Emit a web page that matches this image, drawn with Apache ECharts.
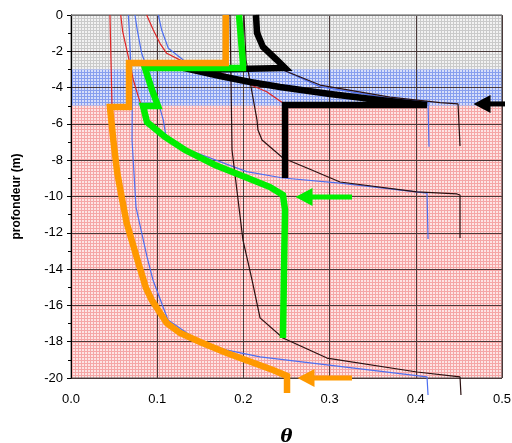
<!DOCTYPE html>
<html>
<head>
<meta charset="utf-8">
<script src="https://cdn.jsdelivr.net/npm/echarts@6/dist/echarts.min.js"></script>
<style>
html, body { margin: 0; padding: 0; background: #fff; }
#main { width: 512px; height: 443px; }
</style>
</head>
<body>
<div id="main"></div>
<script>
// profils teneur en eau : [theta, profondeur]
var zones = [[0, -3], [-3, -5], [-5, -20]];

var orange = [[0.1795, 0], [0.1795, -2.64], [0.0673, -2.64], [0.0673, -5.07], [0.0452, -5.07],
    [0.0491, -6.89], [0.0537, -8.71], [0.0588, -10.03], [0.0646, -11.46], [0.0704, -12.40],
    [0.0781, -13.66], [0.087, -15.04], [0.0936, -15.70], [0.111, -16.97], [0.1265, -17.52],
    [0.1497, -18.02], [0.1806, -18.62], [0.2343, -19.56], [0.2506, -19.89], [0.2506, -20.83]];

var green = [[0.1949, 0], [0.1995, -2.64], [0.1995, -2.92], [0.0858, -2.92], [0.094, -4.13],
    [0.1009, -5.01], [0.0835, -5.01], [0.0882, -5.90], [0.109, -6.72], [0.1323, -7.44],
    [0.167, -8.26], [0.2019, -8.93], [0.2309, -9.48], [0.2459, -9.92], [0.2483, -10.74],
    [0.2471, -14.05], [0.2459, -17.80]];

var blackThick = [[0.2146, 0], [0.2158, -0.99], [0.2227, -1.76], [0.239, -2.48], [0.2483, -2.92],
    [0.2483, -3.03], [0.1415, -3.03], [0.1729, -3.36], [0.2077, -3.69], [0.2425, -3.97],
    [0.3005, -4.35], [0.3585, -4.68], [0.413, -4.96], [0.2483, -4.96], [0.2483, -8.98]];

var red1 = [[0.0452, 0], [0.0476, -5.07]];
var red2 = [[0.0577, 0], [0.06, -0.92], [0.0665, -2.30], [0.0723, -3.58], [0.0781, -4.50], [0.082, -5.05]];
var red3 = [[0.0878, 0], [0.0955, -0.83], [0.1032, -1.56], [0.111, -2.11], [0.1303, -2.57],
    [0.1497, -2.87], [0.1821, -3.31], [0.2038, -3.76], [0.227, -4.23], [0.2459, -4.85]];

var blueA = [[0.0665, 0], [0.0676, -0.83], [0.0693, -2.64], [0.0711, -4.5], [0.0708, -6.89],
    [0.0754, -10.58], [0.0882, -13.33], [0.0951, -14.6], [0.1125, -16.8], [0.1497, -18.02],
    [0.181, -18.46], [0.2193, -18.84], [0.297, -19.28], [0.413, -19.94], [0.4142, -19.94], [0.4142, -20.94]];
var blueB = [[0.0742, 0], [0.0769, -0.83], [0.082, -2.11], [0.0916, -3.40], [0.0994, -4.50],
    [0.1071, -5.79], [0.1102, -6.70], [0.1265, -7.26], [0.2038, -8.63], [0.2459, -8.98],
    [0.3121, -9.26], [0.413, -9.81], [0.4142, -9.92], [0.4142, -12.34]];
var blueC = [[0.1013, 0], [0.1052, -0.83], [0.1129, -1.83], [0.1303, -2.48], [0.1497, -2.85],
    [0.2459, -3.03], [0.2889, -3.95], [0.3701, -4.59], [0.4142, -4.79], [0.4153, -4.85], [0.4153, -7.26]];

var darkA = [[0.1845, 0], [0.1868, -7.44], [0.1995, -12.40], [0.21, -14.6], [0.2193, -16.69],
    [0.2459, -17.80], [0.297, -18.90], [0.4014, -19.67], [0.4513, -19.94], [0.4524, -19.94], [0.4524, -20.94]];
var darkB = [[0.2007, 0], [0.203, -2.48], [0.2053, -3.03], [0.2158, -5.79], [0.2169, -6.34],
    [0.2216, -6.89], [0.2459, -7.88], [0.2738, -8.43], [0.3121, -9.20], [0.4014, -9.75],
    [0.4478, -9.86], [0.4513, -9.92], [0.4513, -12.29]];
var darkC = [[0.2146, 0], [0.2227, -1.76], [0.239, -2.48], [0.2459, -3.03], [0.2889, -3.86],
    [0.3701, -4.52], [0.4281, -4.83], [0.449, -4.9], [0.4513, -4.96], [0.4513, -7.22]];

// fleches : [theta depart, theta arrivee, profondeur]
var arrowBlack = [0.5116, 0.4768, -4.9];
var arrowGreen = [0.326, 0.2703, -10.03];
var arrowOrange = [0.326, 0.2726, -20.0];

function pattern(bg, line) {
    var c = document.createElement('canvas');
    c.width = 3; c.height = 3;
    var ctx = c.getContext('2d');
    ctx.fillStyle = bg;
    ctx.fillRect(0, 0, 3, 3);
    ctx.fillStyle = line;
    ctx.fillRect(0, 0, 3, 1);
    ctx.fillRect(0, 0, 1, 3);
    return { image: c, repeat: 'repeat' };
}

function thin(data, color) {
    return {
        type: 'line', data: data, symbol: 'none', clip: false, z: 3,
        lineStyle: { color: color, width: 1.2 }
    };
}

function thick(data, color, w) {
    return {
        type: 'line', data: data, symbol: 'none', clip: false, z: 4,
        lineStyle: { color: color, width: w, join: 'miter' }
    };
}

function arrow(a, color) {
    return {
        type: 'line', clip: false, z: 5, symbol: 'none', showSymbol: true,
        lineStyle: { color: color, width: 5 },
        itemStyle: { color: color },
        data: [
            [a[0], a[2]],
            { value: [a[1], a[2]], symbol: 'triangle', symbolSize: [18, 17], symbolRotate: 90 }
        ]
    };
}

var myChart = echarts.init(document.getElementById('main'));
var option = {
    animation: false,
    backgroundColor: '#fff',
    grid: { left: 71, right: 10, top: 15, bottom: 65, containLabel: false, outerBoundsMode: 'none',
        show: true, borderColor: '#555', borderWidth: 1 },
    xAxis: {
        type: 'value', min: 0, max: 0.5, interval: 0.1,
        name: 'θ', nameLocation: 'middle', nameGap: 50,
        nameTextStyle: { fontFamily: 'DejaVu Serif', fontStyle: 'italic', fontWeight: 'bold', fontSize: 18, color: '#000' },
        axisLine: { lineStyle: { color: '#777' } },
        axisTick: { show: false },
        axisLabel: { color: '#000', fontSize: 13, fontFamily: 'Liberation Sans', margin: 15,
            formatter: function (v) { return v.toFixed(1); } },
        splitLine: { lineStyle: { color: '#4a3a3a', width: 1 } }
    },
    yAxis: {
        type: 'value', min: -20, max: 0, interval: 2,
        name: 'profondeur (m)', nameLocation: 'middle', nameGap: 48,
        nameTextStyle: { fontFamily: 'Liberation Sans', fontWeight: 'bold', fontSize: 12, color: '#000' },
        axisLine: { show: true, lineStyle: { color: '#000' } },
        axisTick: { show: true, inside: false, length: 4, lineStyle: { color: '#000' } },
        minorTick: { show: true, splitNumber: 2, length: 3, lineStyle: { color: '#000' } },
        axisLabel: { color: '#000', fontSize: 13, fontFamily: 'Liberation Sans', margin: 8 },
        splitLine: { lineStyle: { color: '#4a3a3a', width: 1 } }
    },
    series: [
        {
            type: 'line', data: [], symbol: 'none', z: -1,
            markArea: {
                silent: true, z: -1,
                data: [
                    [{ yAxis: zones[0][0], itemStyle: { color: pattern('#f2f2f2', '#cacaca') } }, { yAxis: zones[0][1] }],
                    [{ yAxis: zones[1][0], itemStyle: { color: pattern('#d6defa', '#879eee') } }, { yAxis: zones[1][1] }],
                    [{ yAxis: zones[2][0], itemStyle: { color: pattern('#fde4e4', '#f5a6a6') } }, { yAxis: zones[2][1] }]
                ]
            }
        },
        thin(red1, '#e02424'),
        thin(red2, '#e02424'),
        thin(red3, '#e02424'),
        thin(blueA, '#4d6ff0'),
        thin(blueB, '#4d6ff0'),
        thin(blueC, '#4d6ff0'),
        thin(darkA, '#2a1010'),
        thin(darkB, '#2a1010'),
        thin(darkC, '#2a1010'),
        thick(blackThick, '#000000', 6.5),
        thick(green, '#00ee00', 6.5),
        thick(orange, '#ff9900', 6.5),
        arrow(arrowBlack, '#000000'),
        arrow(arrowGreen, '#00ee00'),
        arrow(arrowOrange, '#ff9900')
    ]
};
myChart.setOption(option);
</script>
</body>
</html>
